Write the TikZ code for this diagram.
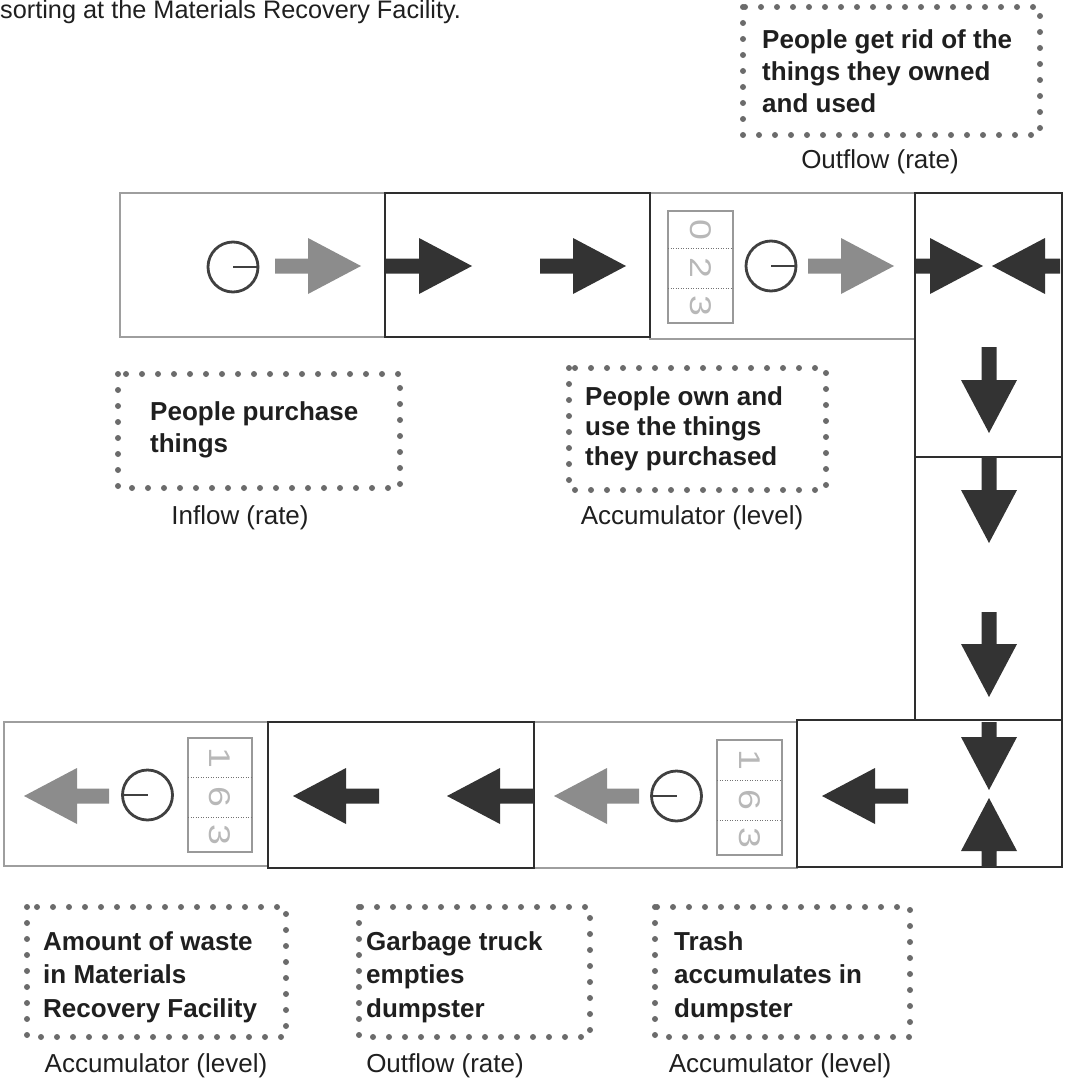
\documentclass[tikz,border=0pt]{standalone}
\usepackage{fontspec}
\setmainfont{Liberation Sans}
\usetikzlibrary{positioning}

\tikzset{
  lightbox/.style={draw=black!38, line width=1.4pt},
  darkbox/.style={draw=black!82, line width=2pt},
  dotbox/.style={draw=black!58, line width=6pt, line cap=round, dash pattern=on 0pt off 16pt},
  clock/.style={circle, draw=black!75, line width=2.8pt, minimum size=50pt, inner sep=0pt},
  hand/.style={draw=black!75, line width=2.8pt},
  counter/.style={draw=black!40, line width=1.3pt},
  divider/.style={draw=black!55, line width=0.9pt, dash pattern=on 0.9pt off 1.6pt},
  digit/.style={text=black!28, font=\fontsize{30}{30}\selectfont, rotate=-90, inner sep=0pt, xscale=1.25},
  caption/.style={font=\fontsize{26}{30}\selectfont, anchor=base, inner sep=0pt, text=black!88},
  note/.style={font=\bfseries\fontsize{26}{32}\selectfont, align=left, anchor=north west, inner sep=0pt, text=black!88},
  darkflow/.style={fill=black!80},
  greyflow/.style={fill=black!45},
  pics/flow/.style={code={
    \fill (0,0) -- (-53,28) -- (-53,7.5) -- (-#1,7.5) -- (-#1,-7.5) -- (-53,-7.5) -- (-53,-28) -- cycle;
  }}
}

\begin{document}
\begin{tikzpicture}[x=1pt,y=-1pt]
\useasboundingbox (0,0) rectangle (1065,1078);
\clip (0,0) rectangle (1065,1078);

\node[anchor=base west, inner sep=0pt, font=\fontsize{25.3}{30}\selectfont, text=black!88] (head) at (0,19) {sorting at the Materials Recovery Facility.};

% cells of the loop
\draw[lightbox] (120,193) rectangle (385,337);
\draw[lightbox] (650,193) rectangle (915,339);
\draw[lightbox] (4,722) rectangle (268,866);
\draw[lightbox] (534,722) rectangle (797,868);
\draw[darkbox] (385,193) rectangle (650,337);
\draw[darkbox] (915,193) rectangle (1062,457);
\draw[darkbox] (915,457) rectangle (1062,720);
\draw[darkbox] (797,720) rectangle (1062,867);
\draw[darkbox] (268,722) rectangle (534,868);

% top row, to the right
\pic[greyflow] at (361,266) {flow=86};
\pic[darkflow] at (472,266) {flow=86};
\pic[darkflow] at (626,266) {flow=86};
\pic[greyflow] at (894,266) {flow=86};
\pic[darkflow] at (983,266) {flow=67};
\pic[darkflow, rotate=180] at (992,266) {flow=68};

% right column, downwards
\pic[darkflow, rotate=-90] at (989,433) {flow=86};
\pic[darkflow, rotate=-90] at (989,543) {flow=86};
\pic[darkflow, rotate=-90] at (989,697) {flow=85};
\pic[darkflow, rotate=-90] at (989,790) {flow=68};
\pic[darkflow, rotate=90] at (989,798) {flow=69};

% bottom row, to the left
\pic[darkflow, rotate=180] at (822,796) {flow=86};
\pic[greyflow, rotate=180] at (554,796) {flow=85};
\pic[darkflow, rotate=180] at (447,796) {flow=87};
\pic[darkflow, rotate=180] at (293,796) {flow=86};
\pic[greyflow, rotate=180] at (24,796) {flow=85};

% clocks
\node[clock] (clkA) at (233,267) {};
\draw[hand] (clkA.center) -- (clkA.east);
\node[clock] (clkC) at (771,266) {};
\draw[hand] (clkC.center) -- (clkC.east);
\node[clock] (clkG) at (147.5,795) {};
\draw[hand] (clkG.center) -- (clkG.west);
\node[clock] (clkI) at (676.5,796) {};
\draw[hand] (clkI.center) -- (clkI.west);

% counters
\draw[counter] (668,211) rectangle (733,323);
\draw[divider] (668,248) -- (733,248);
\draw[divider] (668,288) -- (733,288);
\node[digit] (cC1) at (700.5,229.5) {0};
\node[digit] (cC2) at (700.5,268) {2};
\node[digit] (cC3) at (700.5,305.5) {3};

\draw[counter] (188,738) rectangle (252,852);
\draw[divider] (188,777) -- (252,777);
\draw[divider] (188,817) -- (252,817);
\node[digit] (cG1) at (220,757.5) {1};
\node[digit] (cG2) at (220,797) {6};
\node[digit] (cG3) at (220,834.5) {3};

\draw[counter] (717,740) rectangle (782,855);
\draw[divider] (717,780) -- (782,780);
\draw[divider] (717,820) -- (782,820);
\node[digit] (cI1) at (749.5,760) {1};
\node[digit] (cI2) at (749.5,800) {6};
\node[digit] (cI3) at (749.5,837.5) {3};

% notes
\draw[dotbox] (743,7) rectangle (1040,135);
\node[note] (get) at (762,29) {People get rid of the\\things they owned\\and used};
\node[caption] (getlbl) at (880,169) {Outflow (rate)};

\draw[dotbox] (118,374) rectangle (400,488);
\node[note] (buy) at (150,401) {People purchase\\things};
\node[caption] (buylbl) at (240,524) {Inflow (rate)};

\draw[dotbox] (569,368) rectangle (826,490);
\node[note, font=\bfseries\fontsize{26}{30}\selectfont] (own) at (585,386) {People own and\\use the things\\they purchased};
\node[caption] (ownlbl) at (692,524) {Accumulator (level)};

\draw[dotbox] (27,907) rectangle (286,1037);
\node[note, font=\bfseries\fontsize{26}{33.5}\selectfont] (mrf) at (43,931) {Amount of waste\\in Materials\\Recovery Facility};
\node[caption] (mrflbl) at (156,1072) {Accumulator (level)};

\draw[dotbox] (359,907) rectangle (590,1037);
\node[note, font=\bfseries\fontsize{26}{33.5}\selectfont] (truck) at (366,931) {Garbage truck\\empties\\dumpster};
\node[caption] (trucklbl) at (445,1072) {Outflow (rate)};

\draw[dotbox] (655,907) rectangle (910,1037);
\node[note, font=\bfseries\fontsize{26}{33.5}\selectfont] (trash) at (674,931) {Trash\\accumulates in\\dumpster};
\node[caption] (trashlbl) at (780,1072) {Accumulator (level)};
\end{tikzpicture}
\end{document}
